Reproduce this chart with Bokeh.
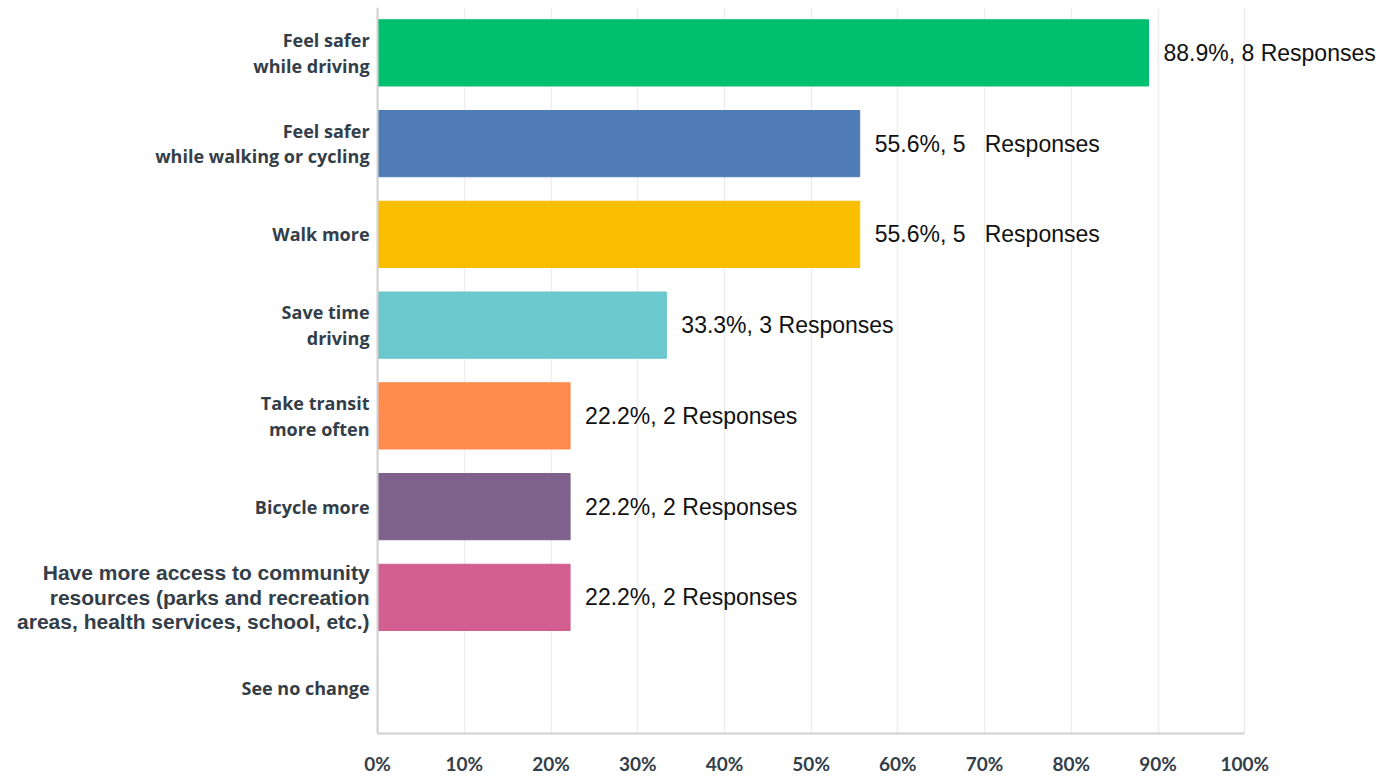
from bokeh.plotting import figure
from bokeh.models import ColumnDataSource, FactorRange, Range1d, FixedTicker, Span
from bokeh.core.properties import value
from bokeh.embed import file_html
from bokeh.resources import INLINE

categories = [
    "Feel safer\nwhile driving",
    "Feel safer\nwhile walking or cycling",
    "Walk more",
    "Save time\ndriving",
    "Take transit\nmore often",
    "Bicycle more",
    "Have more access to community\nresources (parks and recreation\nareas, health services, school, etc.)",
    "See no change",
]
percents = [88.9, 55.6, 55.6, 33.3, 22.2, 22.2, 22.2, 0.0]
responses = [8, 5, 5, 3, 2, 2, 2, 0]
value_labels = [
    "88.9%, 8 Responses",
    "55.6%, 5\u00a0\u00a0\u00a0Responses",
    "55.6%, 5\u00a0\u00a0\u00a0Responses",
    "33.3%, 3 Responses",
    "22.2%, 2 Responses",
    "22.2%, 2 Responses",
    "22.2%, 2 Responses",
    "",
]
colors = ["#00bf6f", "#507cb6", "#f9be00", "#6bc8cd", "#ff8b4f", "#7f628b", "#d25f90", "#cccccc"]
label_fonts = ["Open Sans", "Open Sans", "Open Sans", "Open Sans", "Open Sans", "Open Sans", "Liberation Sans", "Open Sans"]
label_sizes = ["18px", "18px", "18px", "18px", "18px", "18px", "21px", "18px"]
tick_values = [0, 10, 20, 30, 40, 50, 60, 70, 80, 90, 100]
tick_labels = {t: f"{t}%" for t in tick_values}

keys = [str(i) for i in range(len(categories))]
src = ColumnDataSource(dict(
    key=keys, cat=categories, pct=percents, resp=responses,
    vlabel=value_labels, color=colors, font=label_fonts, fsize=label_sizes,
    zero=[0] * len(keys),
))

px_per_unit = 8.67
x_start = -377 / px_per_unit
x_end = 116.0
p = figure(
    y_range=FactorRange(factors=list(reversed(keys)), range_padding=0),
    x_range=Range1d(x_start, x_end),
    frame_width=int(round((x_end - x_start) * px_per_unit)),
    frame_height=726,
    output_backend="svg",
    toolbar_location=None,
    min_border_top=7, min_border_bottom=0, min_border_left=0, min_border_right=0,
)
p.outline_line_color = None
p.background_fill_color = "white"
p.border_fill_color = "white"

p.yaxis.visible = False
p.ygrid.visible = False

p.xaxis.ticker = FixedTicker(ticks=tick_values)
p.xaxis.major_label_overrides = tick_labels
p.xaxis.bounds = (0, 100)
p.xaxis.axis_line_color = "#d0d0d0"
p.xaxis.axis_line_width = 2
p.xaxis.major_tick_line_color = None
p.xaxis.minor_tick_line_color = None
p.xaxis.major_label_standoff = 12
p.xaxis.major_label_text_font = "Lato"
p.xaxis.major_label_text_font_style = "bold"
p.xaxis.major_label_text_font_size = "19px"
p.xaxis.major_label_text_color = "#333e48"

p.xgrid.ticker = FixedTicker(ticks=tick_values)
p.xgrid.grid_line_color = "#ededed"
p.xgrid.grid_line_width = 1.5

p.hbar(y="key", left="zero", right="pct", height=0.73, color="color", source=src)

p.add_layout(Span(location=0, dimension="height", line_color="#d0d0d0", line_width=2))

p.text(x="pct", y="key", text="vlabel", source=src, x_offset=15,
       text_font=value("Liberation Sans"), text_font_size="23px",
       text_color="#111111", text_align="left", text_baseline="middle")

p.text(x="zero", y="key", text="cat", source=src, x_offset=-8,
       text_font="font", text_font_style="bold", text_font_size="fsize",
       text_color="#333e48", text_align="right", text_baseline="middle",
       text_line_height=1.07)

open("out.html", "w").write(file_html(p, INLINE))
